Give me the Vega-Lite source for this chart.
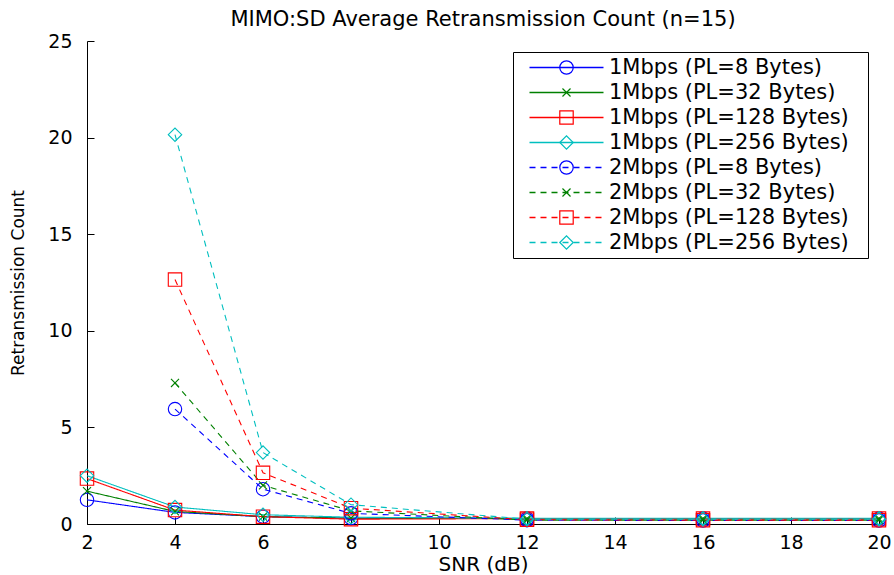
{
  "$schema": "https://vega.github.io/schema/vega-lite/v6.json",
  "autosize": {"type": "none"},
  "width": 792,
  "height": 483,
  "padding": {"left": 87, "top": 41, "right": 15, "bottom": 51},
  "background": "white",
  "config": {"view": {"stroke": null}},
  "title": {"text": "MIMO:SD Average Retransmission Count (n=15)", "font": "DejaVu Sans", "fontSize": 21, "fontWeight": "normal", "color": "black", "anchor": "middle", "baseline": "bottom", "offset": 8, "dy": 27},
  "data": {"values": [
    {"series": "1Mbps (PL=8 Bytes)", "snr": 2, "count": 1.25},
    {"series": "1Mbps (PL=8 Bytes)", "snr": 4, "count": 0.6},
    {"series": "1Mbps (PL=8 Bytes)", "snr": 6, "count": 0.38},
    {"series": "1Mbps (PL=8 Bytes)", "snr": 8, "count": 0.3},
    {"series": "1Mbps (PL=8 Bytes)", "snr": 12, "count": 0.28},
    {"series": "1Mbps (PL=8 Bytes)", "snr": 16, "count": 0.28},
    {"series": "1Mbps (PL=8 Bytes)", "snr": 20, "count": 0.28},
    {"series": "1Mbps (PL=32 Bytes)", "snr": 2, "count": 1.7},
    {"series": "1Mbps (PL=32 Bytes)", "snr": 4, "count": 0.65},
    {"series": "1Mbps (PL=32 Bytes)", "snr": 6, "count": 0.38},
    {"series": "1Mbps (PL=32 Bytes)", "snr": 8, "count": 0.3},
    {"series": "1Mbps (PL=32 Bytes)", "snr": 12, "count": 0.28},
    {"series": "1Mbps (PL=32 Bytes)", "snr": 16, "count": 0.28},
    {"series": "1Mbps (PL=32 Bytes)", "snr": 20, "count": 0.28},
    {"series": "1Mbps (PL=128 Bytes)", "snr": 2, "count": 2.35},
    {"series": "1Mbps (PL=128 Bytes)", "snr": 4, "count": 0.72},
    {"series": "1Mbps (PL=128 Bytes)", "snr": 6, "count": 0.38},
    {"series": "1Mbps (PL=128 Bytes)", "snr": 8, "count": 0.25},
    {"series": "1Mbps (PL=128 Bytes)", "snr": 12, "count": 0.28},
    {"series": "1Mbps (PL=128 Bytes)", "snr": 16, "count": 0.28},
    {"series": "1Mbps (PL=128 Bytes)", "snr": 20, "count": 0.28},
    {"series": "1Mbps (PL=256 Bytes)", "snr": 2, "count": 2.5},
    {"series": "1Mbps (PL=256 Bytes)", "snr": 4, "count": 0.88},
    {"series": "1Mbps (PL=256 Bytes)", "snr": 6, "count": 0.48},
    {"series": "1Mbps (PL=256 Bytes)", "snr": 8, "count": 0.35},
    {"series": "1Mbps (PL=256 Bytes)", "snr": 12, "count": 0.3},
    {"series": "1Mbps (PL=256 Bytes)", "snr": 16, "count": 0.3},
    {"series": "1Mbps (PL=256 Bytes)", "snr": 20, "count": 0.3},
    {"series": "2Mbps (PL=8 Bytes)", "snr": 4, "count": 5.95},
    {"series": "2Mbps (PL=8 Bytes)", "snr": 6, "count": 1.8},
    {"series": "2Mbps (PL=8 Bytes)", "snr": 8, "count": 0.55},
    {"series": "2Mbps (PL=8 Bytes)", "snr": 12, "count": 0.2},
    {"series": "2Mbps (PL=8 Bytes)", "snr": 16, "count": 0.18},
    {"series": "2Mbps (PL=8 Bytes)", "snr": 20, "count": 0.18},
    {"series": "2Mbps (PL=32 Bytes)", "snr": 4, "count": 7.3},
    {"series": "2Mbps (PL=32 Bytes)", "snr": 6, "count": 2.0},
    {"series": "2Mbps (PL=32 Bytes)", "snr": 8, "count": 0.68},
    {"series": "2Mbps (PL=32 Bytes)", "snr": 12, "count": 0.2},
    {"series": "2Mbps (PL=32 Bytes)", "snr": 16, "count": 0.2},
    {"series": "2Mbps (PL=32 Bytes)", "snr": 20, "count": 0.2},
    {"series": "2Mbps (PL=128 Bytes)", "snr": 4, "count": 12.65},
    {"series": "2Mbps (PL=128 Bytes)", "snr": 6, "count": 2.65},
    {"series": "2Mbps (PL=128 Bytes)", "snr": 8, "count": 0.82},
    {"series": "2Mbps (PL=128 Bytes)", "snr": 12, "count": 0.22},
    {"series": "2Mbps (PL=128 Bytes)", "snr": 16, "count": 0.2},
    {"series": "2Mbps (PL=128 Bytes)", "snr": 20, "count": 0.2},
    {"series": "2Mbps (PL=256 Bytes)", "snr": 4, "count": 20.15},
    {"series": "2Mbps (PL=256 Bytes)", "snr": 6, "count": 3.7},
    {"series": "2Mbps (PL=256 Bytes)", "snr": 8, "count": 1.0},
    {"series": "2Mbps (PL=256 Bytes)", "snr": 12, "count": 0.25},
    {"series": "2Mbps (PL=256 Bytes)", "snr": 16, "count": 0.25},
    {"series": "2Mbps (PL=256 Bytes)", "snr": 20, "count": 0.25}
  ]},
  "encoding": {
    "x": {"field": "snr", "type": "quantitative", "scale": {"domain": [2, 20], "nice": false, "zero": false},
      "axis": {"title": "SNR (dB)", "values": [2, 4, 6, 8, 10, 12, 14, 16, 18, 20], "grid": false, "tickSize": -7, "labelPadding": 16, "domainColor": "black", "tickColor": "black", "labelFont": "DejaVu Sans", "labelFontSize": 19, "labelColor": "black", "titleFont": "DejaVu Sans", "titleFontSize": 20, "titleFontWeight": "normal", "titleColor": "black", "titlePadding": 2, "labelFlush": false}},
    "y": {"field": "count", "type": "quantitative", "scale": {"domain": [0, 25], "nice": false},
      "axis": {"title": "Retransmission Count", "values": [0, 5, 10, 15, 20, 25], "grid": false, "tickSize": -7, "labelPadding": 22, "domainColor": "black", "tickColor": "black", "labelFont": "DejaVu Sans", "labelFontSize": 19, "labelColor": "black", "titleFont": "DejaVu Sans", "titleFontSize": 17, "titleFontWeight": "normal", "titleColor": "black", "titlePadding": 20, "labelFlush": false}}
  },
  "layer": [
    {
      "mark": {"type": "line", "strokeWidth": 1.1},
      "encoding": {
        "color": {"field": "series", "type": "nominal",
          "scale": {"domain": ["1Mbps (PL=8 Bytes)", "1Mbps (PL=32 Bytes)", "1Mbps (PL=128 Bytes)", "1Mbps (PL=256 Bytes)", "2Mbps (PL=8 Bytes)", "2Mbps (PL=32 Bytes)", "2Mbps (PL=128 Bytes)", "2Mbps (PL=256 Bytes)"],
                    "range": ["#0000FF", "#008000", "#FF0000", "#00BFBF", "#0000FF", "#008000", "#FF0000", "#00BFBF"]},
          "legend": {"orient": "none", "legendX": 426, "legendY": 11, "title": "\u00a0", "titleOrient": "right", "titlePadding": 14, "titleFontSize": 1, "symbolType": "M-37,0L37,0", "symbolSize": 4, "symbolStrokeWidth": 1.4, "symbolOffset": 38, "labelOffset": 32, "labelFont": "DejaVu Sans", "labelFontSize": 21, "labelColor": "black", "labelLimit": 0, "padding": 5, "rowPadding": 3, "strokeColor": "black", "fillColor": "white", "zindex": 1}},
        "strokeDash": {"field": "series", "type": "nominal",
          "scale": {"domain": ["1Mbps (PL=8 Bytes)", "1Mbps (PL=32 Bytes)", "1Mbps (PL=128 Bytes)", "1Mbps (PL=256 Bytes)", "2Mbps (PL=8 Bytes)", "2Mbps (PL=32 Bytes)", "2Mbps (PL=128 Bytes)", "2Mbps (PL=256 Bytes)"],
                    "range": [[1, 0], [1, 0], [1, 0], [1, 0], [6, 5], [6, 5], [6, 5], [6, 5]]},
          "legend": {"orient": "none", "legendX": 426, "legendY": 11, "title": "\u00a0", "titleOrient": "right", "titlePadding": 14, "titleFontSize": 1, "symbolType": "M-37,0L37,0", "symbolSize": 4, "symbolStrokeWidth": 1.4, "symbolOffset": 38, "labelOffset": 32, "labelFont": "DejaVu Sans", "labelFontSize": 21, "labelColor": "black", "labelLimit": 0, "padding": 5, "rowPadding": 3, "strokeColor": "black", "fillColor": "white", "zindex": 1}}
      }
    },
    {
      "mark": {"type": "point", "filled": false, "strokeWidth": 1.1, "size": 180, "opacity": 1},
      "encoding": {
        "color": {"field": "series", "type": "nominal",
          "scale": {"domain": ["1Mbps (PL=8 Bytes)", "1Mbps (PL=32 Bytes)", "1Mbps (PL=128 Bytes)", "1Mbps (PL=256 Bytes)", "2Mbps (PL=8 Bytes)", "2Mbps (PL=32 Bytes)", "2Mbps (PL=128 Bytes)", "2Mbps (PL=256 Bytes)"],
                    "range": ["#0000FF", "#008000", "#FF0000", "#00BFBF", "#0000FF", "#008000", "#FF0000", "#00BFBF"]},
          "legend": {"orient": "none", "legendX": 426, "legendY": 11, "title": null, "symbolSize": 180, "symbolStrokeWidth": 1.2, "symbolOffset": 38, "labelOffset": 7, "labelFont": "DejaVu Sans", "labelFontSize": 21, "labelOpacity": 0, "labelExpr": "'\u00a0'", "labelLimit": 0, "padding": 5, "rowPadding": 3, "zindex": 2}},
        "shape": {"field": "series", "type": "nominal",
          "scale": {"domain": ["1Mbps (PL=8 Bytes)", "1Mbps (PL=32 Bytes)", "1Mbps (PL=128 Bytes)", "1Mbps (PL=256 Bytes)", "2Mbps (PL=8 Bytes)", "2Mbps (PL=32 Bytes)", "2Mbps (PL=128 Bytes)", "2Mbps (PL=256 Bytes)"],
                    "range": ["circle", "M-0.6,-0.6L0.6,0.6M-0.6,0.6L0.6,-0.6", "square", "diamond", "circle", "M-0.6,-0.6L0.6,0.6M-0.6,0.6L0.6,-0.6", "square", "diamond"]},
          "legend": {"orient": "none", "legendX": 426, "legendY": 11, "title": null, "symbolSize": 180, "symbolStrokeWidth": 1.2, "symbolOffset": 38, "labelOffset": 7, "labelFont": "DejaVu Sans", "labelFontSize": 21, "labelOpacity": 0, "labelExpr": "'\u00a0'", "labelLimit": 0, "padding": 5, "rowPadding": 3, "zindex": 2}}
      }
    }
  ],
  "resolve": {"scale": {"color": "independent", "shape": "independent", "strokeDash": "independent"}}
}
